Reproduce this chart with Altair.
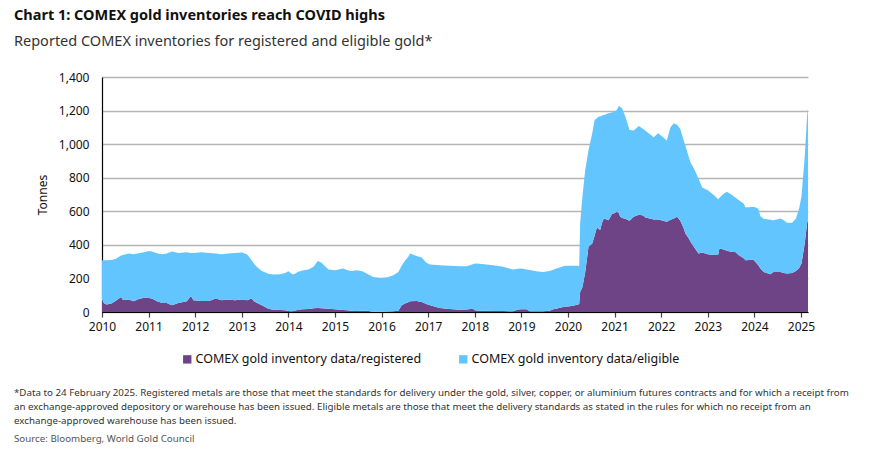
import altair as alt
import pandas as pd

# Decimal-year sample points
years = [
    2010.00, 2010.05, 2010.10, 2010.20, 2010.29, 2010.41, 2010.45, 2010.57, 2010.68, 2010.79, 2010.93,
    2011.00, 2011.07, 2011.18, 2011.29, 2011.39, 2011.50, 2011.64, 2011.82, 2011.91, 2011.96,
    2012.14, 2012.30, 2012.44, 2012.57, 2012.71, 2012.85,
    2013.00, 2013.11, 2013.21, 2013.27, 2013.32, 2013.43, 2013.57, 2013.68, 2013.82, 2013.93,
    2014.00, 2014.07, 2014.11, 2014.21, 2014.30, 2014.43, 2014.54, 2014.63, 2014.71, 2014.86,
    2015.00, 2015.18, 2015.25, 2015.35, 2015.46, 2015.57, 2015.68, 2015.82, 2015.96,
    2016.11, 2016.25, 2016.36, 2016.43, 2016.50, 2016.57, 2016.61, 2016.75, 2016.86, 2016.96,
    2017.04, 2017.25, 2017.46, 2017.68, 2017.82, 2017.96,
    2018.00, 2018.10, 2018.25, 2018.39, 2018.61, 2018.82, 2018.93,
    2019.00, 2019.11, 2019.18, 2019.32, 2019.46, 2019.61, 2019.68, 2019.75, 2019.82, 2019.93,
    2020.04, 2020.15, 2020.21, 2020.24, 2020.26, 2020.31, 2020.37, 2020.44, 2020.52, 2020.57,
    2020.62, 2020.66, 2020.69, 2020.73, 2020.77, 2020.87, 2020.94,
    2021.00, 2021.05, 2021.09, 2021.12, 2021.16, 2021.23, 2021.32, 2021.41, 2021.52, 2021.62,
    2021.66, 2021.73, 2021.84, 2021.93,
    2022.02, 2022.12, 2022.20, 2022.27, 2022.34, 2022.41, 2022.48, 2022.52, 2022.59, 2022.63,
    2022.70, 2022.80, 2022.88,
    2023.00, 2023.13, 2023.22, 2023.25, 2023.34, 2023.41, 2023.52, 2023.59, 2023.66, 2023.77,
    2023.81, 2023.98,
    2024.08, 2024.13, 2024.20, 2024.34, 2024.41, 2024.56, 2024.63, 2024.70, 2024.81, 2024.89,
    2024.96, 2025.01, 2025.08, 2025.13, 2025.15,
]

registered = [
    70, 50, 44, 50, 66, 90, 72, 74, 64, 78, 86,
    84, 80, 64, 54, 54, 40, 54, 64, 96, 70,
    66, 66, 80, 70, 74, 70,
    74, 70, 80, 62, 55, 40, 20, 14, 12, 10,
    6, 4, 6, 14, 16, 18, 22, 24, 22, 20,
    16, 12, 10, 8, 6, 8, 8, 2, 2,
    3, 5, 8, 40, 50, 58, 64, 66, 60, 48,
    40, 24, 18, 14, 15, 20,
    10, 8, 7, 6, 6, 4, 15,
    16, 16, 4, 4, 4, 8, 16, 20, 26, 32,
    34, 40, 44, 48, 119, 149, 239, 388, 408, 455,
    503, 495, 488, 531, 557, 547, 583,
    590, 597, 590, 567, 560, 555, 543, 567, 580, 575,
    563, 558, 551, 551,
    545, 537, 550, 557, 567, 543, 500, 468, 440, 418,
    388, 348, 355,
    344, 340, 340, 378, 372, 365, 358, 358, 340, 320,
    308, 312,
    280, 259, 238, 225, 239, 239, 233, 229, 233, 245,
    262, 289, 408, 527, 557,
]

eligible = [
    238, 258, 264, 260, 250, 246, 268, 274, 280, 272, 272,
    280, 280, 286, 290, 294, 320, 298, 292, 256, 282,
    290, 286, 268, 274, 274, 282,
    280, 274, 228, 223, 214, 205, 208, 209, 213, 223,
    237, 224, 217, 226, 231, 235, 247, 280, 271, 233,
    233, 247, 240, 237, 243, 237, 221, 207, 201,
    202, 214, 231, 235, 255, 270, 284, 268, 264, 245,
    243, 255, 257, 259, 258, 265,
    279, 279, 276, 273, 263, 249, 243,
    243, 237, 246, 239, 235, 237, 236, 239, 239, 243,
    241, 235, 231, 224, 408, 541, 607, 577, 657, 689,
    652, 669, 677, 639, 617, 637, 605,
    604, 608, 638, 655, 654, 609, 542, 514, 528, 514,
    517, 507, 490, 514,
    500, 484, 550, 567, 548, 547, 525, 522, 485, 472,
    468, 448, 387,
    382, 357, 331, 302, 333, 351, 339, 324, 327, 327,
    315, 315,
    337, 312, 317, 324, 308, 318, 314, 302, 298, 312,
    355, 401, 517, 637, 657,
]

series_names = ["COMEX gold inventory data/registered", "COMEX gold inventory data/eligible"]
series_colors = ["#6E4487", "#62C5FE"]
x_ticks = list(range(2010, 2026))
y_ticks = list(range(0, 1401, 200))

title_text = "Chart 1: COMEX gold inventories reach COVID highs"
subtitle_text = "Reported COMEX inventories for registered and eligible gold*"
note_lines = [
    "*Data to 24 February 2025. Registered metals are those that meet the standards for delivery under the gold, silver, copper, or aluminium futures contracts and for which a receipt from",
    "an exchange-approved depository or warehouse has been issued. Eligible metals are those that meet the delivery standards as stated in the rules for which no receipt from an",
    "exchange-approved warehouse has been issued.",
]
source_text = "Source: Bloomberg, World Gold Council"

rows = []
for yr, r, e in zip(years, registered, eligible):
    rows.append({"year": yr, "series": series_names[0], "value": r, "ord": 0})
    rows.append({"year": yr, "series": series_names[1], "value": e, "ord": 1})
df = pd.DataFrame(rows)

FONT = "Noto Sans"

area = alt.Chart(df).mark_area(interpolate="linear").encode(
    x=alt.X(
        "year:Q",
        scale=alt.Scale(domain=[2010, 2025.15], nice=False, zero=False),
        axis=alt.Axis(
            values=x_ticks, format="d", title=None, grid=False, labelFlush=False,
            domainColor="#000000", domainWidth=1.2,
            tickColor="#444444", tickSize=5, tickWidth=1.2,
            labelPadding=4, labelFontSize=12, labelColor="#111111", labelFont=FONT,
        ),
    ),
    y=alt.Y(
        "value:Q",
        stack="zero",
        scale=alt.Scale(domain=[0, 1400], nice=False),
        axis=alt.Axis(
            values=y_ticks, format=",.0f", title="Tonnes",
            grid=True, gridColor="#B5B5B5", gridWidth=1.3,
            domainColor="#000000", domainWidth=1.2, ticks=False,
            labelPadding=13, labelFontSize=12, labelColor="#111111", labelFont=FONT,
            titleFont=FONT, titleFontSize=12, titleFontWeight="normal", titleColor="#111111",
            titlePadding=9,
        ),
    ),
    color=alt.Color(
        "series:N",
        scale=alt.Scale(domain=series_names, range=series_colors),
        legend=alt.Legend(
            orient="none", legendX=79, legendY=276, direction="horizontal", title=None,
            symbolType="square", symbolSize=70, symbolStrokeWidth=0,
            labelFont=FONT, labelFontSize=12.5, labelColor="#111111", labelOffset=2,
            labelLimit=500, columnPadding=35,
        ),
    ),
    order=alt.Order("ord:Q", sort="ascending"),
)


def txt(s, x, y, size, weight="normal", color="#222222"):
    return alt.Chart(pd.DataFrame({"t": [s]})).mark_text(
        align="left", baseline="alphabetic", fontSize=size, fontWeight=weight,
        color=color, font=FONT,
    ).encode(x=alt.value(x), y=alt.value(y), text="t:N")


layers = [area,
          txt(title_text, -88, -57, 14.5, "bold", "#111111"),
          txt(subtitle_text, -88, -31.5, 14.5, "normal", "#333333")]
for i, line in enumerate(note_lines):
    layers.append(txt(line, -88, 319 + 14 * i, 9.75, "normal", "#333333"))
layers.append(txt(source_text, -88, 365, 9.75, "normal", "#555555"))

chart = alt.layer(*layers).properties(
    width=706,
    height=235,
    autosize=alt.AutoSizeParams(type="none"),
    padding={"left": 94, "top": 69, "right": 58, "bottom": 136},
).configure_view(stroke=None)

chart.save("out.html", embed_options={"renderer": "svg", "actions": False})
